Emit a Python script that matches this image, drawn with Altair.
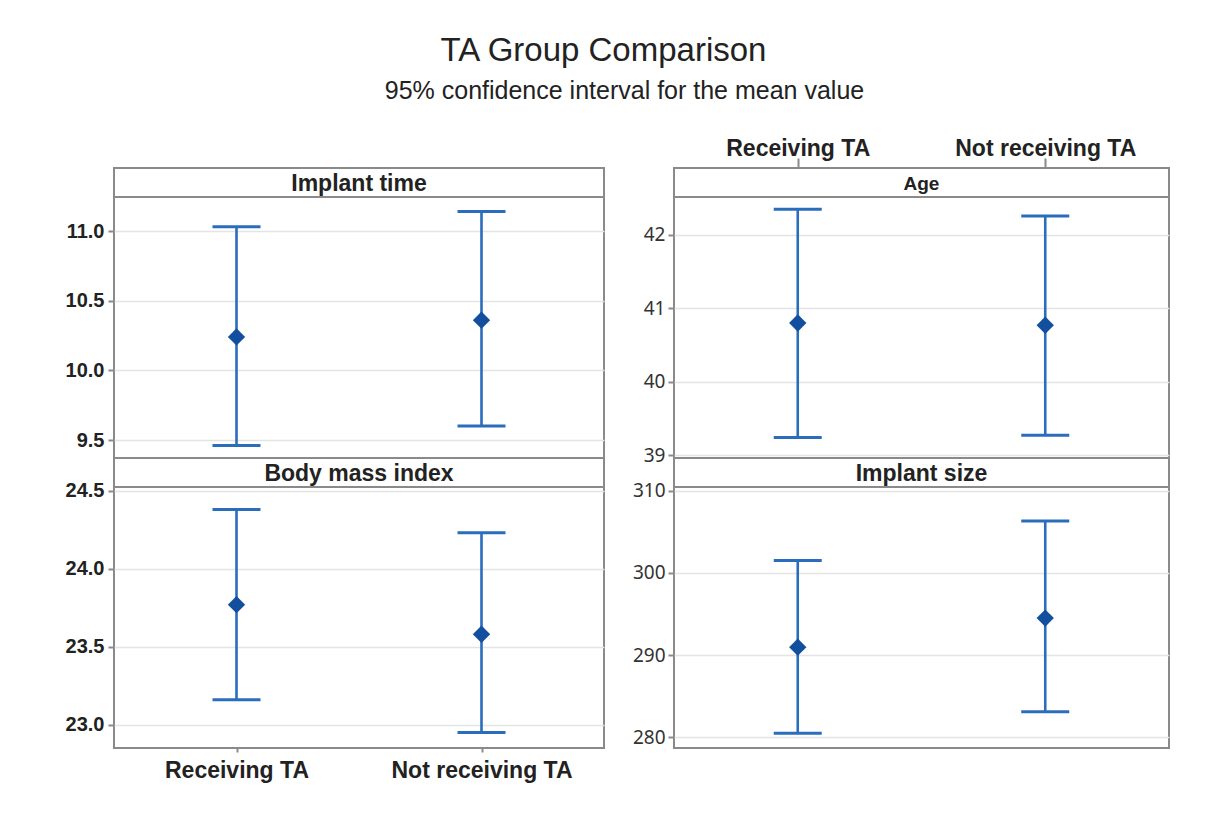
import altair as alt
import pandas as pd

# ---------------- data ----------------
groups = ["Receiving TA", "Not receiving TA"]

implant_time_mean = [10.24, 10.36]
implant_time_lower = [9.46, 9.60]
implant_time_upper = [11.03, 11.14]

age_mean = [40.80, 40.77]
age_lower = [39.24, 39.27]
age_upper = [42.35, 42.26]

bmi_mean = [23.77, 23.58]
bmi_lower = [23.16, 22.95]
bmi_upper = [24.38, 24.23]

size_mean = [290.97, 294.5]
size_lower = [280.5, 283.1]
size_upper = [301.5, 306.3]

implant_time_ticks = [9.5, 10.0, 10.5, 11.0]
age_ticks = [39, 40, 41, 42]
bmi_ticks = [23.0, 23.5, 24.0, 24.5]
size_ticks = [280, 290, 300, 310]

# ---------------- style ----------------
LINE = "#2b6dbd"
POINT = "#134f9f"
FRAME = "#8a8a8a"
GRID = "#e4e4e4"
TEXT = "#222222"
H = 290      # panel height incl. header strip
HH = 29      # header strip height
BOLD_FONT = "Liberation Sans"


def panel(label, mean, lower, upper, ticks, yrange, width, label_size,
          yfmt, bold_y, xmode):
    df = pd.DataFrame({"group": groups, "mean": mean,
                       "lower": lower, "upper": upper})
    lo, hi = yrange
    top = hi + (hi - lo) * HH / (H - HH)
    ysc = alt.Scale(domain=[lo, top], nice=False, zero=False)
    xsc = alt.Scale(type="point", domain=groups, padding=0.5)

    if bold_y:
        yaxis = alt.Axis(values=ticks, format=yfmt, title=None, domain=False,
                         labelFont=BOLD_FONT, labelFontWeight="bold",
                         labelFontSize=20, labelColor=TEXT, labelPadding=4,
                         tickColor=FRAME, tickSize=6, tickWidth=2,
                         gridColor=GRID, gridWidth=1.5, minExtent=105,
                         maxExtent=105)
    else:
        yaxis = alt.Axis(values=ticks, format=yfmt, title=None, domain=False,
                         labelFont="Noto Sans", labelFontWeight="normal",
                         labelFontSize=19, labelColor="#333333",
                         labelPadding=3, tickColor=FRAME, tickSize=6,
                         tickWidth=2, gridColor=GRID, gridWidth=1.5)

    if xmode == "top":
        xaxis = alt.Axis(orient="top", title=None, domain=False,
                         labelFont=BOLD_FONT, labelFontWeight="bold",
                         labelFontSize=23, labelColor=TEXT, labelPadding=-2,
                         labelAngle=0, labelLimit=0, tickColor=FRAME,
                         tickSize=10, tickWidth=2, gridColor=GRID,
                         gridWidth=1.5)
    elif xmode == "bottom":
        xaxis = alt.Axis(orient="bottom", title=None, domain=False,
                         labelFont=BOLD_FONT, labelFontWeight="bold",
                         labelFontSize=23, labelColor=TEXT, labelPadding=7,
                         labelAngle=0, labelLimit=0, tickColor=FRAME,
                         tickSize=4, tickWidth=2, gridColor=GRID,
                         gridWidth=1.5)
    else:
        xaxis = alt.Axis(title=None, domain=False, labels=False, ticks=False,
                         gridColor=GRID, gridWidth=1.5)

    x = alt.X("group:N", scale=xsc, sort=groups, axis=xaxis)
    base = alt.Chart(df)
    bars = base.mark_rule(color=LINE, strokeWidth=2.6).encode(
        x=x, y=alt.Y("lower:Q", scale=ysc, axis=yaxis), y2="upper:Q")
    cap_lo = base.mark_tick(color=LINE, size=48, thickness=3, opacity=1).encode(
        x=x, y=alt.Y("lower:Q", scale=ysc))
    cap_hi = base.mark_tick(color=LINE, size=48, thickness=3, opacity=1).encode(
        x=x, y=alt.Y("upper:Q", scale=ysc))
    pts = base.mark_point(shape="diamond", filled=True, size=300,
                          color=POINT, opacity=1).encode(
        x=x, y=alt.Y("mean:Q", scale=ysc))

    hdr = alt.Chart(pd.DataFrame({"label": [label]}))
    hdr_rect = hdr.mark_rect(fill="white", stroke=FRAME, strokeWidth=2).encode(
        x=alt.value(0), x2=alt.value(width), y=alt.value(0), y2=alt.value(HH))
    hdr_text = hdr.mark_text(font=BOLD_FONT, fontWeight="bold",
                             fontSize=label_size, color=TEXT,
                             baseline="middle", align="center").encode(
        x=alt.value(width / 2), y=alt.value(HH / 2 + 1), text="label:N")

    return alt.layer(bars, cap_lo, cap_hi, pts, hdr_rect, hdr_text).properties(
        width=width, height=H)


lt = panel("Implant time", implant_time_mean, implant_time_lower,
           implant_time_upper, implant_time_ticks, (9.371, 11.244), 490, 23,
           ".1f", True, "none")
rt = panel("Age", age_mean, age_lower, age_upper, age_ticks,
           (38.96, 42.518), 495, 19, "d", False, "top")
lb = panel("Body mass index", bmi_mean, bmi_lower, bmi_upper, bmi_ticks,
           (22.851, 24.524), 490, 23, ".1f", True, "bottom")
rb = panel("Implant size", size_mean, size_lower, size_upper, size_ticks,
           (278.7, 310.45), 495, 23, "d", False, "none")

grid = alt.concat(lt, rt, lb, rb, columns=2,
                  spacing={"row": 0, "column": 70}, bounds="flush").properties(
    title=alt.TitleParams("95% confidence interval for the mean value",
                          fontSize=25, font=BOLD_FONT, fontWeight="normal",
                          color=TEXT, anchor="middle", dx=35, offset=32))

chart = alt.vconcat(grid).properties(
    title=alt.TitleParams("TA Group Comparison", fontSize=33, font=BOLD_FONT,
                          fontWeight="normal", color=TEXT, anchor="middle",
                          dx=14, offset=11),
    padding={"top": 27, "left": 0, "right": 5, "bottom": 5},
).configure(background="white").configure_view(stroke=FRAME, strokeWidth=2)

chart.save("out.html", embed_options={"renderer": "svg", "actions": False})
